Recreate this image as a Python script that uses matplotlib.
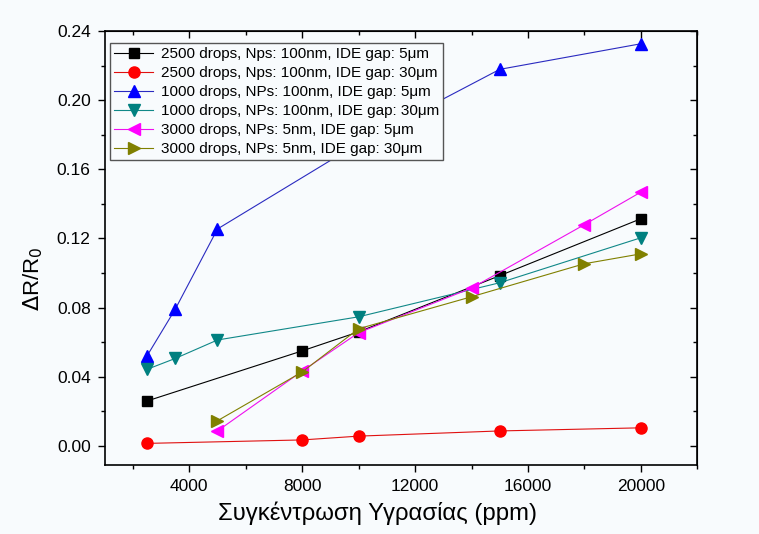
import matplotlib
matplotlib.use("Agg")
import matplotlib.pyplot as plt
from matplotlib.ticker import MultipleLocator, FormatStrFormatter

plt.rcParams['font.family'] = ['Liberation Sans', 'DejaVu Sans']

# Humidity concentration (ppm) and relative resistance change for each sensor
x_s1 = [2500, 8000, 10000, 15000, 20000]
y_s1 = [0.026, 0.055, 0.066, 0.0985, 0.1314]

x_s2 = [2500, 8000, 10000, 15000, 20000]
y_s2 = [0.0015, 0.0035, 0.0057, 0.0087, 0.0105]

x_s3 = [2500, 3500, 5000, 10000, 15000, 20000]
y_s3 = [0.052, 0.079, 0.1255, 0.175, 0.2178, 0.2326]

x_s4 = [2500, 3500, 5000, 10000, 15000, 20000]
y_s4 = [0.0443, 0.0506, 0.0613, 0.0747, 0.0944, 0.1204]

x_s5 = [5000, 8000, 10000, 14000, 18000, 20000]
y_s5 = [0.0087, 0.0433, 0.0655, 0.0913, 0.128, 0.1468]

x_s6 = [5000, 8000, 10000, 14000, 18000, 20000]
y_s6 = [0.0146, 0.0428, 0.0678, 0.0863, 0.1054, 0.1111]

labels = [
    "2500 drops, Nps: 100nm, IDE gap: 5μm",
    "2500 drops, Nps: 100nm, IDE gap: 30μm",
    "1000 drops, NPs: 100nm, IDE gap: 5μm",
    "1000 drops, NPs: 100nm, IDE gap: 30μm",
    "3000 drops, NPs: 5nm, IDE gap: 5μm",
    "3000 drops, NPs: 5nm, IDE gap: 30μm",
]

x_ticks = [4000, 8000, 12000, 16000, 20000]
y_ticks = [0.00, 0.04, 0.08, 0.12, 0.16, 0.20, 0.24]

series = [
    (x_s1, y_s1, '#000000', '#000000', 's', 7.0),
    (x_s2, y_s2, '#ff0000', '#e01010', 'o', 8.0),
    (x_s3, y_s3, '#0000ff', '#2a2ac0', '^', 8.5),
    (x_s4, y_s4, '#008080', '#108888', 'v', 8.5),
    (x_s5, y_s5, '#ff00ff', '#ee10ee', '<', 8.5),
    (x_s6, y_s6, '#808000', '#808000', '>', 8.5),
]

bg = '#f8fbfd'
fig = plt.figure(figsize=(7.59, 5.34), dpi=100, facecolor=bg)
ax = fig.add_axes([0.1378, 0.1292, 0.7809, 0.8128])
ax.set_facecolor(bg)

for (xs, ys, c, lc, m, ms), lab in zip(series, labels):
    ax.plot(xs, ys, color=lc, lw=0.8, marker=m, markersize=ms,
            markerfacecolor=c, markeredgecolor=c, label=lab)

ax.set_xlim(1000, 22000)
ax.set_ylim(-0.011, 0.24)
ax.set_xticks(x_ticks)
ax.set_yticks(y_ticks)
ax.xaxis.set_minor_locator(MultipleLocator(2000))
ax.yaxis.set_minor_locator(MultipleLocator(0.02))
ax.yaxis.set_major_formatter(FormatStrFormatter('%.2f'))

ax.tick_params(which='major', direction='out', length=5, width=1.0,
               labelsize=12.5, pad=5)
ax.tick_params(which='minor', direction='out', length=3, width=1.0)
for sp in ax.spines.values():
    sp.set_linewidth(1.2)

# mirrored inward ticks on the top and right frame
top = ax.secondary_xaxis('top')
top.set_xticks(x_ticks)
top.xaxis.set_minor_locator(MultipleLocator(2000))
top.tick_params(which='major', direction='in', length=5, width=1.0, labeltop=False)
top.tick_params(which='minor', direction='in', length=3, width=1.0)
right = ax.secondary_yaxis('right')
right.set_yticks(y_ticks)
right.yaxis.set_minor_locator(MultipleLocator(0.02))
right.tick_params(which='major', direction='in', length=5, width=1.0, labelright=False)
right.tick_params(which='minor', direction='in', length=3, width=1.0)

ax.set_xlabel("Συγκέντρωση Υγρασίας (ppm)", fontsize=17.2)
ax.set_ylabel(r"$\Delta$R/R$_0$", fontsize=16)
ax.xaxis.set_label_coords(0.46, -0.085)
ax.yaxis.set_label_coords(-0.10, 0.43)

leg = ax.legend(loc='upper left', bbox_to_anchor=(0.009, 0.972), fontsize=11,
                frameon=True, fancybox=False, edgecolor='#555555',
                framealpha=1.0, facecolor=bg, handlelength=2.6,
                handletextpad=0.5, labelspacing=0.33, borderpad=0.25,
                borderaxespad=0.0)
leg.get_frame().set_linewidth(1.0)
leg.set_zorder(5)

fig.savefig("out.png", dpi=100, facecolor=bg)
